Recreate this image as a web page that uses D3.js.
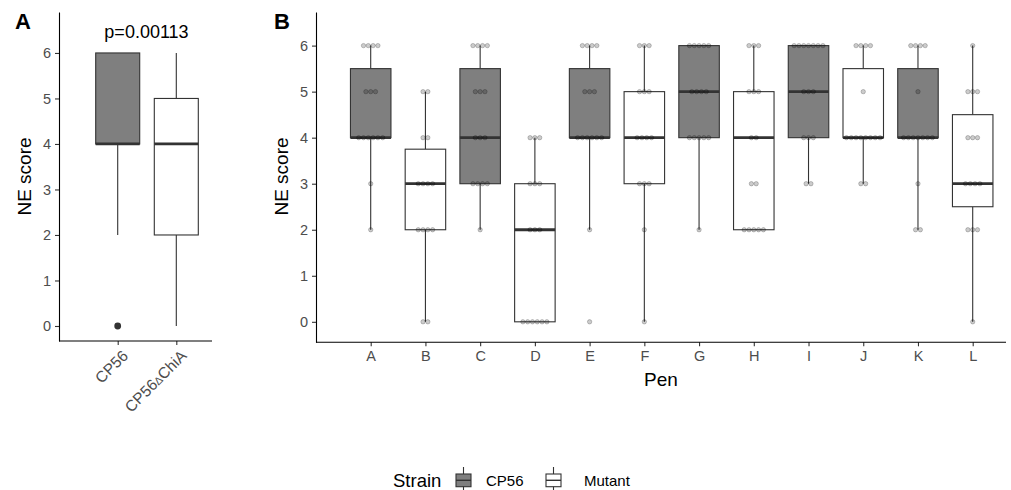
<!DOCTYPE html>
<html>
<head>
<meta charset="utf-8">
<script src="https://cdn.jsdelivr.net/npm/d3@7"></script>
<style>
  body { margin: 0; background: #fff; }
  text { font-family: "Liberation Sans", Arial, sans-serif; }
</style>
</head>
<body>
<svg width="1011" height="490"></svg>
<script>
// ---- data ----
const scoreTicks = [0, 1, 2, 3, 4, 5, 6];
const strains = ["CP56", "Mutant"];

// panel A: summary per strain
const groupsA = ["CP56", "CP56ΔChiA"];
const groupStrainA = ["CP56", "Mutant"];
const loA = [2, 0];
const q1A = [4, 2];
const medA = [4, 4];
const q3A = [6, 5];
const hiA = [6, 6];
const outliersA = [[0], []];
const pValue = "p=0.00113";

// panel B: number of animals per score (0..6) in each pen
const pens = ["A", "B", "C", "D", "E", "F", "G", "H", "I", "J", "K", "L"];
const penStrain = ["CP56", "Mutant", "CP56", "Mutant", "CP56", "Mutant",
                   "CP56", "Mutant", "CP56", "Mutant", "CP56", "Mutant"];
const penCounts = [
  [0, 0, 1, 1, 6, 3, 4],
  [2, 0, 4, 4, 2, 2, 0],
  [0, 0, 1, 4, 3, 3, 4],
  [6, 0, 3, 3, 3, 0, 0],
  [1, 0, 1, 0, 6, 3, 4],
  [1, 0, 1, 3, 4, 3, 3],
  [0, 0, 1, 0, 5, 4, 5],
  [0, 0, 5, 2, 2, 3, 3],
  [0, 0, 0, 2, 3, 3, 7],
  [0, 0, 0, 2, 8, 1, 4],
  [0, 0, 2, 1, 7, 1, 4],
  [1, 0, 3, 4, 3, 3, 1],
];

const fill = d3.scaleOrdinal().domain(strains).range(["#7f7f7f", "#ffffff"]);
const ink = "#333333";

const svg = d3.select("svg");

function styleAxis(g) {
  g.select(".domain").attr("stroke", "#000").attr("stroke-width", 1.1);
  g.selectAll(".tick line").attr("stroke", ink).attr("stroke-width", 1.1);
  g.selectAll(".tick text").attr("fill", "#4d4d4d").style("font-size", "14.5px");
}

function drawBox(g, x, w, y, s) {
  g.append("line").attr("x1", x).attr("x2", x)
    .attr("y1", y(s.hi)).attr("y2", y(s.q3))
    .attr("stroke", ink).attr("stroke-width", 1.1);
  g.append("line").attr("x1", x).attr("x2", x)
    .attr("y1", y(s.q1)).attr("y2", y(s.lo))
    .attr("stroke", ink).attr("stroke-width", 1.1);
  g.append("rect")
    .attr("x", x - w / 2).attr("width", w)
    .attr("y", y(s.q3)).attr("height", y(s.q1) - y(s.q3))
    .attr("fill", fill(s.strain)).attr("stroke", ink).attr("stroke-width", 1.1);
  g.append("line")
    .attr("x1", x - w / 2).attr("x2", x + w / 2)
    .attr("y1", y(s.med)).attr("y2", y(s.med))
    .attr("stroke", ink).attr("stroke-width", 2.8);
}

// ================= panel A =================
const gA = svg.append("g");
const yA = d3.scaleLinear().domain([-0.33, 6.9]).range([341, 12]);
const xA = d3.scalePoint().domain(groupsA).range([117.7, 176.3]);
const bwA = 44;

gA.append("g").attr("transform", "translate(59,0)")
  .call(d3.axisLeft(yA).tickValues(scoreTicks).tickSize(4).tickPadding(4).tickSizeOuter(0))
  .call(styleAxis);

const axA = gA.append("g").attr("transform", "translate(0,341)")
  .call(d3.axisBottom(xA).tickSize(4).tickSizeOuter(0))
  .call(styleAxis);
axA.select(".domain").remove();
axA.append("line").attr("x1", 59).attr("x2", 212).attr("stroke", "#000").attr("stroke-width", 1.1);
axA.selectAll(".tick text")
  .attr("text-anchor", "end")
  .attr("y", 0).attr("dy", "0.71em")
  .attr("transform", "translate(3,8) rotate(-45)")
  .style("font-size", "15.5px")
  .text(null)
  .each(function(d) {
    const t = d3.select(this);
    if (d.includes("Δ")) {
      const [a, b] = d.split("Δ");
      t.append("tspan").text(a);
      t.append("tspan").style("font-size", "11px").text("Δ");
      t.append("tspan").text(b);
    } else {
      t.text(d);
    }
  });

groupsA.forEach((grp, i) => {
  drawBox(gA, xA(grp), bwA, yA, {
    lo: loA[i], q1: q1A[i], med: medA[i], q3: q3A[i], hi: hiA[i], strain: groupStrainA[i]
  });
  outliersA[i].forEach(v => {
    gA.append("circle").attr("cx", xA(grp)).attr("cy", yA(v)).attr("r", 3.4).attr("fill", ink);
  });
});

gA.append("text").attr("x", 146.5).attr("y", 38).attr("text-anchor", "middle")
  .style("font-size", "18px").text(pValue);
gA.append("text").attr("transform", "translate(31,176.5) rotate(-90)")
  .attr("text-anchor", "middle").style("font-size", "19px").text("NE score");
gA.append("text").attr("x", 15).attr("y", 29)
  .style("font-size", "22px").style("font-weight", "bold").text("A");

// ================= panel B =================
const gB = svg.append("g");
const yB = d3.scaleLinear().domain([-0.445, 6.73]).range([342.3, 12]);
const xB = d3.scalePoint().domain(pens).range([370.7, 972.7]);
const bwB = 40.5;
const dotD = 4.8;

gB.append("g").attr("transform", "translate(316,0)")
  .call(d3.axisLeft(yB).tickValues(scoreTicks).tickSize(4).tickPadding(4).tickSizeOuter(0))
  .call(styleAxis);

const axB = gB.append("g").attr("transform", "translate(0,342.3)")
  .call(d3.axisBottom(xB).tickSize(4).tickPadding(4).tickSizeOuter(0))
  .call(styleAxis);
axB.select(".domain").remove();
axB.append("line").attr("x1", 316).attr("x2", 1006).attr("stroke", "#000").attr("stroke-width", 1.1);

pens.forEach((pen, i) => {
  const vals = [];
  penCounts[i].forEach((c, s) => { for (let k = 0; k < c; k++) vals.push(scoreTicks[s]); });
  vals.sort(d3.ascending);
  const q1 = d3.quantile(vals, 0.25), med = d3.quantile(vals, 0.5), q3 = d3.quantile(vals, 0.75);
  const iqr = q3 - q1;
  const lo = d3.min(vals.filter(v => v >= q1 - 1.5 * iqr));
  const hi = d3.max(vals.filter(v => v <= q3 + 1.5 * iqr));
  drawBox(gB, xB(pen), bwB, yB, {lo, q1, med, q3, hi, strain: penStrain[i]});
});

// dots, stacked sideways around the pen centre
const dots = [];
pens.forEach((pen, i) => {
  penCounts[i].forEach((c, s) => {
    for (let k = 0; k < c; k++) dots.push({pen, score: scoreTicks[s], off: k - (c - 1) / 2});
  });
});
gB.selectAll("circle.dot").data(dots).enter().append("circle")
  .attr("class", "dot")
  .attr("cx", d => xB(d.pen) + d.off * dotD)
  .attr("cy", d => yB(d.score))
  .attr("r", dotD / 2 - 0.2)
  .attr("fill", "#000").attr("fill-opacity", 0.2)
  .attr("stroke", "#000").attr("stroke-opacity", 0.3).attr("stroke-width", 0.7);

gB.append("text").attr("transform", "translate(288,176.5) rotate(-90)")
  .attr("text-anchor", "middle").style("font-size", "19px").text("NE score");
gB.append("text").attr("x", 661).attr("y", 386).attr("text-anchor", "middle")
  .style("font-size", "19px").text("Pen");
gB.append("text").attr("x", 274).attr("y", 29)
  .style("font-size", "22px").style("font-weight", "bold").text("B");

// ================= legend =================
const leg = svg.append("g");
leg.append("text").attr("x", 393).attr("y", 486.5).style("font-size", "18.5px").text("Strain");
const legX = [456, 546];
const legTextX = [486, 584];
strains.forEach((s, i) => {
  const k = leg.append("g").attr("transform", `translate(${legX[i]},0)`);
  k.append("line").attr("x1", 7.5).attr("x2", 7.5).attr("y1", 467).attr("y2", 490)
    .attr("stroke", ink).attr("stroke-width", 1.1);
  k.append("rect").attr("x", 0).attr("y", 474).attr("width", 15).attr("height", 12.7)
    .attr("fill", fill(s)).attr("stroke", ink).attr("stroke-width", 1.1);
  k.append("line").attr("x1", 0).attr("x2", 15).attr("y1", 480.3).attr("y2", 480.3)
    .attr("stroke", ink).attr("stroke-width", 1.4);
  leg.append("text").attr("x", legTextX[i]).attr("y", 485.7).style("font-size", "15px").text(s);
});
</script>
</body>
</html>
